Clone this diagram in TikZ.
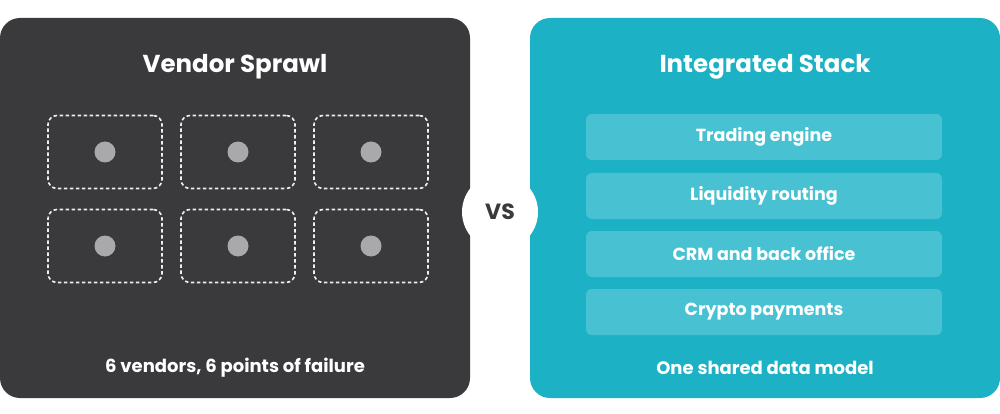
\documentclass[tikz,border=0pt]{standalone}
\usepackage{fontspec}
\setmainfont{Poppins}
\definecolor{dark}{HTML}{3A393B}
\definecolor{teal}{HTML}{1DB1C5}
\definecolor{bar}{HTML}{48C1D2}
\definecolor{dot}{HTML}{A9A8AA}
\begin{document}
\begin{tikzpicture}[x=1pt,y=-1pt,
  panel/.style={rounded corners=20pt},
  vbox/.style={draw=white!92!dark,line width=1.6pt,dash pattern=on 3.5pt off 2.5pt,rounded corners=9pt,minimum width=114pt,minimum height=73pt,inner sep=0},
  vdot/.style={circle,fill=dot,minimum size=21pt,inner sep=0},
  bar/.style={fill=bar,rounded corners=6pt,minimum width=356pt,minimum height=46pt,inner sep=0,text=white,font=\fontsize{17.5}{20}\selectfont\bfseries},
  title/.style={text=white,font=\fontsize{24.5}{28}\selectfont\bfseries},
  foot/.style={text=white,font=\fontsize{18}{20}\selectfont\bfseries}]
\useasboundingbox (0,0) rectangle (1000,414);
\fill[dark,panel] (0,18) rectangle (470,398);
\fill[teal,panel] (530,18) rectangle (1000,398);
\node[title] (t1) at (235,67) {Vendor Sprawl};
\node[title] (t2) at (765,67) {Integrated Stack};
\foreach \x/\i in {105/1,238/2,371/3}{
  \foreach \y/\j in {152/a,246/b}{
    \node[vbox] (b\i\j) at (\x,\y) {};
    \node[vdot] (d\i\j) at (b\i\j) {};
  }}
\node[bar] (r1) at (764,137) {Trading engine};
\node[bar] (r2) at (764,196) {Liquidity routing};
\node[bar] (r3) at (764,254) {CRM and back office};
\node[bar] (r4) at (764,312) {Crypto payments};
\node[foot] (f1) at (235,368) {6 vendors, 6 points of failure};
\node[foot] (f2) at (765,368) {One shared data model};
\node[circle,fill=white,minimum size=76pt,inner sep=0,text=dark,font=\fontsize{22}{26}\selectfont\bfseries] (vs) at (500,212) {VS};
\end{tikzpicture}
\end{document}
